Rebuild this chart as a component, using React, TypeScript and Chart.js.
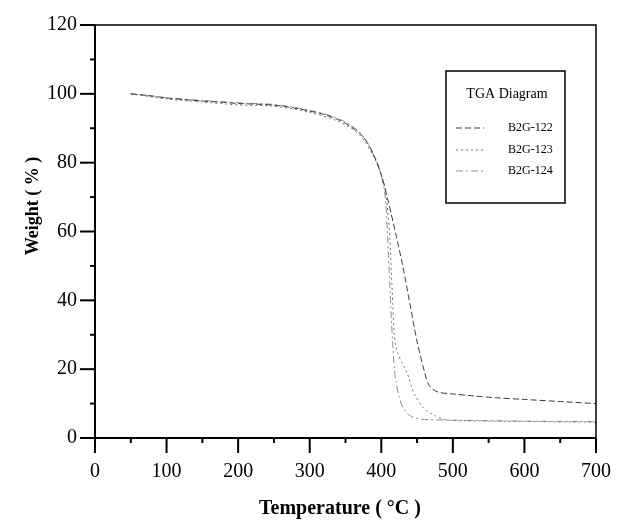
import React, { useEffect, useRef } from "react";
import { Chart, registerables } from "chart.js";

Chart.register(...registerables);

// ---- Data ----
const xTicks = [0, 100, 200, 300, 400, 500, 600, 700];
const yTicks = [0, 20, 40, 60, 80, 100, 120];

const temp122 = [50, 75, 100, 125, 150, 175, 200, 225, 250, 275, 300, 320, 340, 355, 370, 380, 390, 400, 410, 420, 430, 440, 450, 460, 465, 470, 480, 500, 530, 560, 600, 650, 700];
const weight122 = [100, 99.5, 98.8, 98.3, 97.9, 97.6, 97.2, 97.0, 96.7, 96.0, 95.0, 94.0, 92.5, 90.8, 88.5, 86.0, 82.0, 76.5, 68.5, 59.5, 50.0, 39.0, 28.0, 19.5, 16.0, 14.5, 13.3, 12.8, 12.2, 11.7, 11.2, 10.6, 10.0];

const temp123 = [50, 100, 150, 200, 250, 300, 340, 370, 390, 400, 405, 410, 412, 414, 416, 418, 420, 423, 430, 436, 442, 447, 460, 475, 490, 520, 600, 700];
const weight123 = [100, 98.5, 97.6, 96.8, 96.4, 94.6, 92.0, 88.0, 81.5, 76.5, 73.0, 64.0, 58.0, 48.5, 39.0, 30.5, 27.0, 24.6, 21.5, 19.0, 15.0, 12.4, 8.5, 6.5, 5.3, 5.0, 4.8, 4.6];

const temp124 = [50, 100, 150, 200, 250, 300, 340, 370, 390, 400, 405, 408, 410, 412, 414, 416, 418, 420, 425, 430, 440, 455, 500, 600, 700];
const weight124 = [100, 98.9, 98.1, 97.4, 96.9, 95.2, 92.8, 88.8, 82.0, 76.0, 71.0, 62.0, 53.0, 44.0, 35.0, 27.0, 21.0, 17.0, 12.0, 9.0, 6.5, 5.5, 5.2, 4.9, 4.8];

const seriesLabels = ["B2G-122", "B2G-123", "B2G-124"];
const legendTitle = "TGA Diagram";
const xTitle = "Temperature ( \u00B0C )";
const yTitle = "Weight ( % )";

const toPoints = (xs: number[], ys: number[]) => xs.map((x, i) => ({ x, y: ys[i] }));

const SERIF = '"Liberation Serif", "DejaVu Serif", serif';

const framePlugin = {
  id: "frame",
  afterDraw(chart: any) {
    const { ctx, chartArea } = chart;
    const { left, right, top, bottom } = chartArea;
    const xs = chart.scales.x;
    const ys = chart.scales.y;
    ctx.save();
    ctx.strokeStyle = "#000";
    ctx.setLineDash([]);
    ctx.lineWidth = 1.5;
    ctx.beginPath();
    ctx.moveTo(left, top);
    ctx.lineTo(right, top);
    ctx.lineTo(right, bottom);
    ctx.stroke();
    ctx.lineWidth = 2;
    ctx.beginPath();
    ctx.moveTo(left, top);
    ctx.lineTo(left, bottom);
    ctx.lineTo(right, bottom);
    ctx.stroke();
    for (let v = 0; v <= 700; v += 50) {
      const px = xs.getPixelForValue(v);
      const len = v % 100 === 0 ? 15 : 5;
      ctx.beginPath();
      ctx.moveTo(px, bottom);
      ctx.lineTo(px, bottom + len);
      ctx.stroke();
    }
    for (let v = 0; v <= 120; v += 10) {
      const py = ys.getPixelForValue(v);
      const len = v % 20 === 0 ? 15 : 5;
      ctx.beginPath();
      ctx.moveTo(left, py);
      ctx.lineTo(left - len, py);
      ctx.stroke();
    }
    ctx.fillStyle = "#000";
    ctx.textAlign = "center";
    ctx.textBaseline = "middle";
    ctx.font = `bold 20px ${SERIF}`;
    ctx.fillText(xTitle, 340, 509);
    ctx.font = `bold 18px ${SERIF}`;
    ctx.save();
    ctx.translate(33, 206);
    ctx.rotate(-Math.PI / 2);
    ctx.fillText(yTitle, 0, 0);
    ctx.restore();

    const bx = 446, by = 71, bw = 119, bh = 132;
    ctx.lineWidth = 1.5;
    ctx.strokeRect(bx, by, bw, bh);
    ctx.font = `14px ${SERIF}`;
    ctx.textAlign = "center";
    ctx.fillText(legendTitle, 507, 94);
    const rowsY = [128, 150, 171];
    ctx.font = `12px ${SERIF}`;
    ctx.textAlign = "left";
    chart.data.datasets.forEach((ds: any, i: number) => {
      const y = rowsY[i];
      ctx.save();
      ctx.strokeStyle = ds.borderColor;
      ctx.lineWidth = 1;
      ctx.setLineDash(ds.borderDash || []);
      ctx.beginPath();
      ctx.moveTo(456, y);
      ctx.lineTo(484, y);
      ctx.stroke();
      ctx.restore();
      ctx.fillStyle = "#000";
      ctx.fillText(ds.label, 508, y);
    });
    ctx.restore();
  },
};

export default function App() {
  const ref = useRef<HTMLCanvasElement>(null);
  useEffect(() => {
    document.body.style.margin = "0";
    if (!ref.current) return;
    const chart = new Chart(ref.current, {
      type: "scatter",
      data: {
        datasets: [
          {
            label: seriesLabels[0],
            data: toPoints(temp122, weight122),
            showLine: true,
            borderColor: "#3a3a3a",
            borderWidth: 1,
            borderDash: [6, 3],
            pointRadius: 0,
            tension: 0.3,
          },
          {
            label: seriesLabels[1],
            data: toPoints(temp123, weight123),
            showLine: true,
            borderColor: "#6e6e6e",
            borderWidth: 1,
            borderDash: [2, 3],
            pointRadius: 0,
            tension: 0.3,
          },
          {
            label: seriesLabels[2],
            data: toPoints(temp124, weight124),
            showLine: true,
            borderColor: "#8e8e8e",
            borderWidth: 1,
            borderDash: [7, 3, 2, 3],
            pointRadius: 0,
            tension: 0.3,
          },
        ],
      },
      options: {
        responsive: false,
        animation: false,
        layout: { padding: { left: 0, top: 25, right: 25, bottom: 0 } },
        plugins: { legend: { display: false }, tooltip: { enabled: false } },
        scales: {
          x: {
            type: "linear",
            min: 0,
            max: 700,
            afterBuildTicks: (s: any) => { s.ticks = xTicks.map((v) => ({ value: v })); },
            ticks: { color: "#000", font: { family: SERIF, size: 20 }, padding: 22, maxRotation: 0, autoSkip: false },
            grid: { display: false, drawTicks: false },
            border: { display: false },
            afterFit: (s: any) => { s.height = 83; s.paddingLeft = 0; s.paddingRight = 0; },
          },
          y: {
            type: "linear",
            min: 0,
            max: 120,
            afterBuildTicks: (s: any) => { s.ticks = yTicks.map((v) => ({ value: v })); },
            ticks: { color: "#000", font: { family: SERIF, size: 20 }, padding: 18, autoSkip: false },
            grid: { display: false, drawTicks: false },
            border: { display: false },
            afterFit: (s: any) => { s.width = 95; s.paddingTop = 0; s.paddingBottom = 0; },
          },
        },
      },
      plugins: [framePlugin],
    } as any);
    return () => chart.destroy();
  }, []);
  return <canvas ref={ref} width={621} height={521} style={{ display: "block" }} />;
}
